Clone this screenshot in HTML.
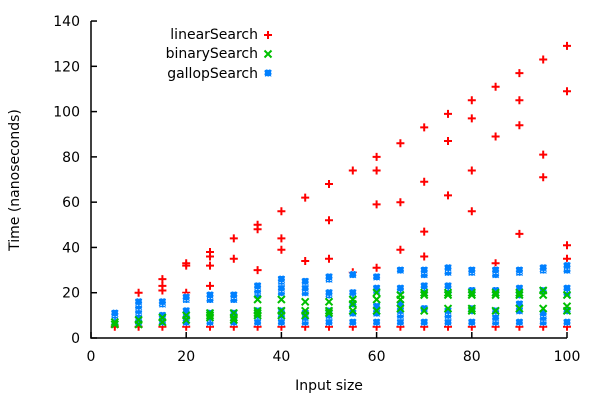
<!DOCTYPE html>
<html><head><meta charset="utf-8"><style>
body{margin:0;background:#fff}
svg{display:block;font-family:"DejaVu Sans","Liberation Sans",sans-serif}
</style></head><body>
<svg id="s" width="600" height="400" xmlns="http://www.w3.org/2000/svg">
<defs>
<g id="p"><path d="M-4,0H4M0,-4V4" stroke="#f00" stroke-width="2"/></g>
<g id="x"><path d="M-3.5,-3.5L3.5,3.5M-3.5,3.5L3.5,-3.5" stroke="#00c000" stroke-width="2"/></g>
<g id="b"><rect x="-3.5" y="-3.5" width="7" height="7" fill="#0080ff" stroke="#fff" stroke-width="0.8" stroke-dasharray="1.5,1.5"/></g>
</defs>
<g id="pts"></g>
<path d="M91,21V338H567" fill="none" stroke="#000" stroke-width="1.5"/>
<g stroke="#000" stroke-width="1.5" id="ticks"></g>
<g font-size="14" fill="#000" id="labs"></g>
<text x="258" y="39" font-size="14" text-anchor="end">linearSearch</text>
<text x="258" y="58" font-size="14" text-anchor="end">binarySearch</text>
<text x="258" y="78" font-size="14" text-anchor="end">gallopSearch</text>
<use href="#p" x="268" y="35"/><use href="#x" x="268" y="54"/><use href="#b" x="268" y="73"/>
<text x="329" y="390" font-size="14" text-anchor="middle">Input size</text>
<text transform="translate(19,180) rotate(-90)" font-size="14" text-anchor="middle">Time (nanoseconds)</text>
</svg>
<script>
const X=v=>91+4.76*v,Y=v=>338-2.264*v;
const R={5:[5],10:[20,5],15:[26,23,21,5],20:[33,32,20,5],25:[38,36,32,23,5],30:[44,35,5],35:[50,48,30,5],40:[56,44,39,5],45:[62,34,5],50:[68,52,35,5],55:[74,29,5],60:[80,74,59,31,5],65:[86,60,39,5],70:[93,69,47,36,5],75:[99,87,63,5],80:[105,97,74,56,5],85:[111,89,33,5],90:[117,105,94,46,5],95:[123,81,71,5],100:[129,109,41,35,5]};
const G={5:[6,7],10:[6,8],15:[7,9],20:[8,10],25:[9,10,11],30:[8,9,11],35:[10,11,12,17],40:[10,12,17],45:[10,12,16],50:[11,12,16],55:[12,15,17],60:[12,17,20],65:[13,17,19],70:[12,19,20],75:[13,19,20],80:[12,13,19,20],85:[12,19,20],90:[13,19,20],95:[13,19,21],100:[12,14,19]};
const B={5:[7,8,9,10,11],10:[7,8,10,12,14,16],15:[7,9,10,15,16],20:[7,10,12,17,18],25:[7,9,11,17,19],30:[7,9,11,17,19],35:[7,10,12,19,21,23],40:[7,10,12,20,22,25,26],45:[7,9,11,20,22,25],50:[7,10,12,19,20,26,27],55:[7,11,15,19,20,28],60:[7,11,14,21,22,27],65:[7,10,12,15,21,22,30],70:[7,13,21,23,28,30],75:[7,10,12,21,23,29,31],80:[7,12,13,21,29,30],85:[7,9,12,20,21,28,30],90:[7,12,15,19,22,29,30],95:[7,9,11,21,30,31],100:[7,12,20,22,30,32]};
let h='';
for(const [d,id] of [[R,'p'],[B,'b'],[G,'x']])for(const k in d)for(const v of d[k])h+=`<use href="#${id}" x="${X(+k).toFixed(1)}" y="${Y(v).toFixed(1)}"/>`;
document.getElementById('pts').innerHTML=h;
let t='',l='';
for(let v=0;v<=100;v+=20){t+=`<path d="M${X(v)},338v-6"/>`;l+=`<text x="${X(v)}" y="361" text-anchor="middle">${v}</text>`;}
for(let v=0;v<=140;v+=20){t+=`<path d="M91,${Y(v)}h6"/>`;l+=`<text x="80" y="${Y(v)+5}" text-anchor="end">${v}</text>`;}
document.getElementById('ticks').innerHTML=t;document.getElementById('labs').innerHTML=l;
</script>
</body></html>
